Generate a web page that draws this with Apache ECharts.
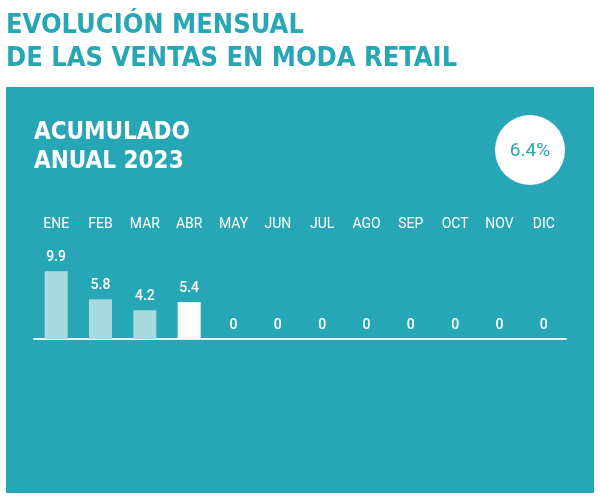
<!DOCTYPE html>
<html><head><meta charset="utf-8">
<script src="https://cdn.jsdelivr.net/npm/echarts@6/dist/echarts.min.js"></script>
<style>html,body{margin:0;padding:0;background:#fff}#c{width:600px;height:500px}</style>
</head><body><div id="c"></div>
<script>
var months = ['ENE','FEB','MAR','ABR','MAY','JUN','JUL','AGO','SEP','OCT','NOV','DIC'];
var values = [9.9, 5.8, 4.2, 5.4, 0, 0, 0, 0, 0, 0, 0, 0];
var currentMonth = 'ABR';
var annualTotal = '6.4%';
var titleLines = ['EVOLUCIÓN MENSUAL', 'DE LAS VENTAS EN MODA RETAIL'];
var subtitleLines = ['ACUMULADO', 'ANUAL 2023'];

var TEAL = '#27A6B5';
var condensed = "'DejaVu Sans Condensed',sans-serif";
var chart = echarts.init(document.getElementById('c'));
chart.setOption({
  backgroundColor: '#ffffff',
  animation: false,
  graphic: [
    {type:'rect', shape:{x:6,y:87,width:588,height:406}, style:{fill:TEAL}, z:-10},
    {type:'circle', shape:{cx:530,cy:150,r:35}, style:{fill:'#ffffff'}},
    {type:'text', x:530, y:151, style:{text:annualTotal, fill:TEAL, font:"19px Roboto", align:'center', verticalAlign:'middle'}},
    {type:'text', x:34, y:118, style:{text:subtitleLines.join('\n'), fill:'#ffffff', font:"bold 24px " + condensed, lineHeight:29}},
    {type:'text', x:6, y:9, style:{text:titleLines.join('\n'), fill:TEAL, font:"bold 27px " + condensed, lineHeight:33}}
  ],
  grid: {left:34, right:34, top:257, bottom:161},
  xAxis: [
    {type:'category', data:months, position:'bottom',
     axisLine:{show:true, lineStyle:{color:'#E6F4F6', width:2}},
     axisTick:{show:false}, axisLabel:{show:false}},
    {type:'category', data:months, position:'top',
     axisLine:{show:false}, axisTick:{show:false},
     axisLabel:{color:'#ffffff', fontFamily:'Roboto', fontSize:14, margin:26}}
  ],
  yAxis: {type:'value', min:0, max:12, show:false, splitLine:{show:false}},
  series: [{
    type:'bar', xAxisIndex:0, barWidth:23,
    data: values.map(function(v,i){
      return {value:v, itemStyle:{color: months[i]===currentMonth ? '#ffffff' : '#A8DBE1'}};
    }),
    label:{show:true, position:'top', distance:7, color:'#ffffff', fontFamily:'Roboto', fontSize:14, fontWeight:500}
  }]
});
</script></body></html>
